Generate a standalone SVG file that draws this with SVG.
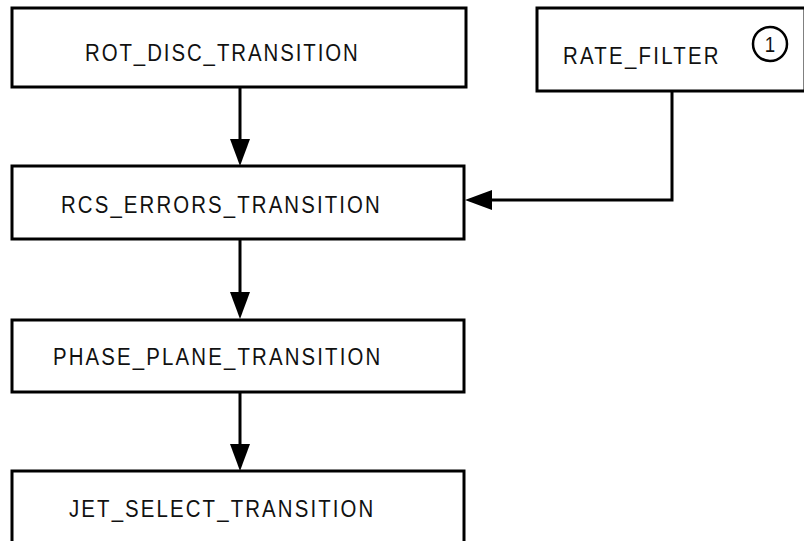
<svg xmlns="http://www.w3.org/2000/svg" width="804" height="541" viewBox="0 0 804 541">
<style>
.box{fill:#fff;stroke:#000;stroke-width:3}
.lbl{font-family:"Liberation Sans",Arial,sans-serif;font-size:24px;fill:#111}
.conn{fill:none;stroke:#000;stroke-width:3}
</style>
<defs>
<marker id="ah" markerUnits="userSpaceOnUse" markerWidth="28" markerHeight="21" refX="6" refY="10.5" orient="auto" viewBox="0 0 28 21">
<path d="M0,0.5 L27,10.5 L0,20.5 Z" fill="#000"/>
</marker>
</defs>
<rect width="804" height="541" fill="#fff"/>
<g id="connectors">
<line class="conn" x1="240" y1="87" x2="240" y2="145" marker-end="url(#ah)"/>
<line class="conn" x1="240" y1="239" x2="240" y2="298" marker-end="url(#ah)"/>
<line class="conn" x1="240" y1="392" x2="240" y2="450" marker-end="url(#ah)"/>
<path class="conn" d="M672,91 V200 H486" marker-end="url(#ah)"/>
</g>
<g id="rot_disc_transition">
<rect class="box" x="12" y="8" width="454" height="79"/>
<text class="lbl" transform="translate(85,61) scale(0.85,1)" textLength="321" lengthAdjust="spacing">ROT_DISC_TRANSITION</text>
</g>
<g id="rate_filter">
<rect class="box" x="537" y="8" width="268" height="83"/>
<text class="lbl" transform="translate(563,64) scale(0.85,1)" textLength="183" lengthAdjust="spacing">RATE_FILTER</text>
<circle cx="770" cy="44" r="17" fill="none" stroke="#000" stroke-width="2.5"/>
<text transform="translate(770,52) scale(0.85,1)" text-anchor="middle" font-family="Liberation Sans,Arial,sans-serif" font-size="22" fill="#111">1</text>
</g>
<g id="rcs_errors_transition">
<rect class="box" x="12" y="166" width="452" height="73"/>
<text class="lbl" transform="translate(61,213) scale(0.85,1)" textLength="375" lengthAdjust="spacing">RCS_ERRORS_TRANSITION</text>
</g>
<g id="phase_plane_transition">
<rect class="box" x="12" y="320" width="452" height="72"/>
<text class="lbl" transform="translate(53,365) scale(0.85,1)" textLength="385" lengthAdjust="spacing">PHASE_PLANE_TRANSITION</text>
</g>
<g id="jet_select_transition">
<rect class="box" x="12" y="471" width="452" height="82"/>
<text class="lbl" transform="translate(69,517) scale(0.85,1)" textLength="358" lengthAdjust="spacing">JET_SELECT_TRANSITION</text>
</g>
</svg>
